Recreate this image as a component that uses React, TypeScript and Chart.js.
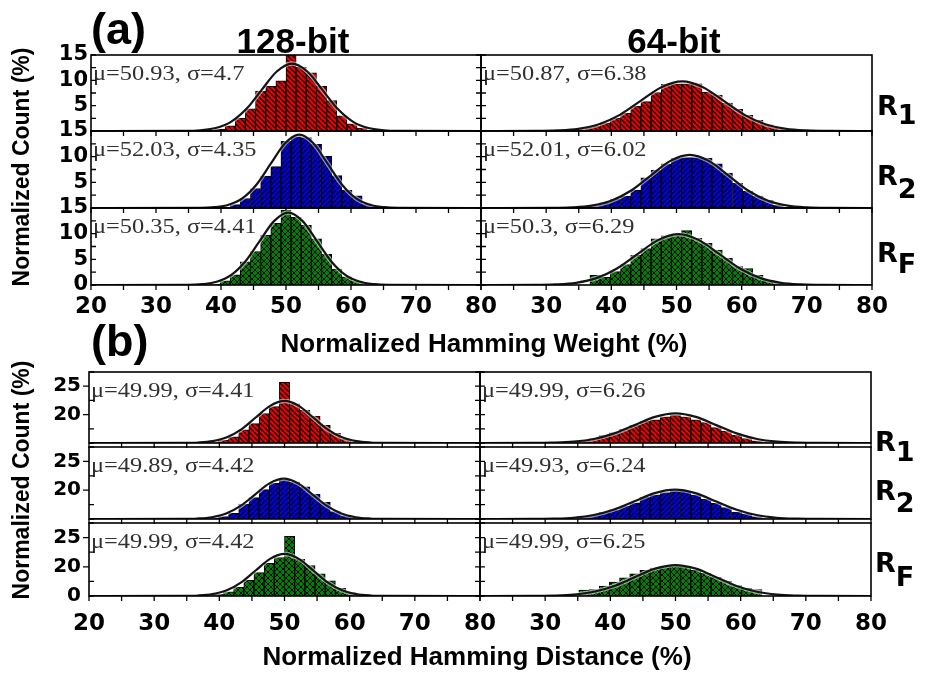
import React, { useEffect, useRef } from "react";
import { Chart, registerables } from "chart.js";
Chart.register(...registerables);

// ================= DATA =================
// (a) Normalized Hamming Weight — 128-bit
const hw128R1Bins = [38.28, 39.84, 41.41, 42.97, 44.53, 46.09, 47.66, 49.22, 50.78, 52.34, 53.91, 55.47, 57.03, 58.59, 60.16, 61.72, 63.28];
const hw128R1Counts = [0.1, 0.4, 1.0, 2.5, 4.4, 7.9, 8.8, 9.9, 15.0, 12.6, 11.5, 8.8, 6.0, 3.0, 1.4, 0.6, 0.2];
const hw128R1FitX = [20, 34.48, 36.83, 39.18, 41.53, 43.88, 46.23, 48.58, 50.93, 53.28, 55.63, 57.98, 60.33, 62.68, 65.03, 67.38, 80];
const hw128R1FitY = [0, 0.03, 0.15, 0.58, 1.8, 4.32, 8.07, 11.74, 13.3, 11.74, 8.07, 4.32, 1.8, 0.58, 0.15, 0.03, 0];

const hw128R2Bins = [40.63, 42.19, 43.75, 45.31, 46.88, 48.44, 50.0, 51.56, 53.13, 54.69, 56.25, 57.81, 59.38, 60.94, 62.5, 64.06];
const hw128R2Counts = [0.2, 0.65, 1.85, 3.8, 6.2, 8.05, 13.0, 13.9, 13.7, 12.4, 10.05, 6.3, 3.5, 2.35, 0.8, 0.3];
const hw128R2FitX = [20, 36.81, 38.98, 41.16, 43.33, 45.51, 47.68, 49.86, 52.03, 54.21, 56.38, 58.56, 60.73, 62.91, 65.08, 67.26, 80];
const hw128R2FitY = [0, 0.03, 0.16, 0.63, 1.93, 4.64, 8.67, 12.62, 14.3, 12.62, 8.67, 4.64, 1.93, 0.63, 0.16, 0.03, 0];

const hw128RFBins = [39.06, 40.63, 42.19, 43.75, 45.31, 46.88, 48.44, 50.0, 51.56, 53.13, 54.69, 56.25, 57.81, 59.38, 60.94, 62.5];
const hw128RFCounts = [0.2, 0.8, 2.0, 4.5, 6.5, 9.7, 12.0, 14.6, 13.2, 11.6, 9.0, 6.0, 3.1, 1.6, 0.8, 0.3];
const hw128RFFitX = [20, 34.92, 37.12, 39.33, 41.53, 43.74, 45.94, 48.15, 50.35, 52.56, 54.76, 56.97, 59.17, 61.38, 63.58, 65.79, 80];
const hw128RFFitY = [0, 0.03, 0.16, 0.62, 1.91, 4.58, 8.55, 12.44, 14.1, 12.44, 8.55, 4.58, 1.91, 0.62, 0.16, 0.03, 0];

// (a) Normalized Hamming Weight — 64-bit
const hw64R1Bins = [34.38, 35.94, 37.5, 39.06, 40.63, 42.19, 43.75, 45.31, 46.88, 48.44, 50.0, 51.56, 53.13, 54.69, 56.25, 57.81, 59.38, 60.94, 62.5, 64.06, 65.63, 67.19];
const hw64R1Counts = [0.2, 0.6, 0.95, 1.6, 2.5, 3.5, 4.85, 5.8, 7.6, 9.2, 9.3, 9.3, 9.3, 7.7, 7.1, 5.5, 4.3, 3.1, 2.1, 1.2, 0.6, 0.2];
const hw64R1FitX = [20, 28.54, 31.73, 34.92, 38.11, 41.3, 44.49, 47.68, 50.87, 54.06, 57.25, 60.44, 63.63, 66.82, 70.01, 73.2, 80];
const hw64R1FitY = [0, 0.02, 0.11, 0.43, 1.33, 3.18, 5.94, 8.65, 9.8, 8.65, 5.94, 3.18, 1.33, 0.43, 0.11, 0.02, 0];

const hw64R2Bins = [35.94, 37.5, 39.06, 40.63, 42.19, 43.75, 45.31, 46.88, 48.44, 50.0, 51.56, 53.13, 54.69, 56.25, 57.81, 59.38, 60.94, 62.5, 64.06, 65.63, 67.19];
const hw64R2Counts = [0.2, 0.5, 1.0, 1.7, 2.3, 3.5, 5.9, 7.4, 8.6, 9.7, 9.8, 9.8, 9.7, 8.6, 6.8, 4.8, 3.3, 2.3, 1.5, 0.5, 0.15];
const hw64R2FitX = [20, 30.94, 33.95, 36.96, 39.97, 42.98, 45.99, 49.0, 52.01, 55.02, 58.03, 61.04, 64.05, 67.06, 70.07, 73.08, 80];
const hw64R2FitY = [0, 0.02, 0.11, 0.45, 1.4, 3.36, 6.28, 9.13, 10.35, 9.13, 6.28, 3.36, 1.4, 0.45, 0.11, 0.02, 0];

const hw64RFBins = [37.5, 39.06, 40.63, 42.19, 43.75, 45.31, 46.88, 48.44, 50.0, 51.56, 53.13, 54.69, 56.25, 57.81, 59.38, 60.94, 62.5, 64.06, 65.63];
const hw64RFCounts = [1.9, 1.5, 2.6, 4.0, 5.8, 7.1, 9.0, 9.6, 10.0, 10.6, 9.1, 8.1, 6.8, 5.2, 3.6, 3.2, 1.9, 0.9, 0.3];
const hw64RFFitX = [20, 28.29, 31.43, 34.58, 37.72, 40.87, 44.01, 47.16, 50.3, 53.45, 56.59, 59.74, 62.88, 66.03, 69.17, 72.32, 80];
const hw64RFFitY = [0, 0.02, 0.11, 0.43, 1.34, 3.21, 6.0, 8.74, 9.9, 8.74, 6.0, 3.21, 1.34, 0.43, 0.11, 0.02, 0];

// (b) Normalized Hamming Distance — 128-bit (values as read on the panel axis)
const hd128R1Bins = [39.06, 40.63, 42.19, 43.75, 45.31, 46.88, 48.44, 50.0, 51.56, 53.13, 54.69, 56.25, 57.81, 59.38, 60.94];
const hd128R1Counts = [15.15, 15.5, 16.1, 17.3, 18.4, 20.2, 21.4, 25.7, 21.9, 20.8, 19.7, 18.1, 16.7, 15.7, 15.2];
const hd128R1FitX = [20, 34.55, 36.76, 38.96, 41.17, 43.37, 45.58, 47.79, 49.99, 52.2, 54.4, 56.61, 58.81, 61.02, 63.22, 65.43, 80];
const hd128R1FitY = [15, 15.02, 15.08, 15.32, 16.0, 17.4, 19.49, 21.53, 22.4, 21.53, 19.49, 17.4, 16.0, 15.32, 15.08, 15.02, 15];

const hd128R2Bins = [39.06, 40.63, 42.19, 43.75, 45.31, 46.88, 48.44, 50.0, 51.56, 53.13, 54.69, 56.25, 57.81, 59.38, 60.94];
const hd128R2Counts = [15.1, 15.4, 16.0, 17.6, 18.7, 20.1, 21.2, 21.7, 21.4, 20.6, 19.3, 17.9, 16.3, 15.6, 15.2];
const hd128R2FitX = [20, 34.42, 36.63, 38.84, 41.05, 43.26, 45.47, 47.68, 49.89, 52.1, 54.31, 56.52, 58.73, 60.94, 63.15, 65.36, 80];
const hd128R2FitY = [15, 15.02, 15.08, 15.31, 15.95, 17.27, 19.25, 21.18, 22.0, 21.18, 19.25, 17.27, 15.95, 15.31, 15.08, 15.02, 15];

const hd128RFBins = [39.84, 41.41, 42.97, 44.53, 46.09, 47.66, 49.22, 50.78, 52.34, 53.91, 55.47, 57.03, 58.59, 60.16, 61.72];
const hd128RFCounts = [15.3, 15.7, 16.5, 17.7, 19.0, 20.6, 21.6, 25.2, 21.3, 20.2, 18.8, 17.6, 16.3, 15.6, 15.15];
const hd128RFFitX = [20, 34.52, 36.73, 38.94, 41.15, 43.36, 45.57, 47.78, 49.99, 52.2, 54.41, 56.62, 58.83, 61.04, 63.25, 65.46, 80];
const hd128RFFitY = [15, 15.02, 15.08, 15.32, 15.97, 17.34, 19.37, 21.35, 22.2, 21.35, 19.37, 17.34, 15.97, 15.32, 15.08, 15.02, 15];

// (b) Normalized Hamming Distance — 64-bit
const hd64R1Bins = [34.38, 35.94, 37.5, 39.06, 40.63, 42.19, 43.75, 45.31, 46.88, 48.44, 50.0, 51.56, 53.13, 54.69, 56.25, 57.81, 59.38, 60.94, 62.5, 64.06, 65.63];
const hd64R1Counts = [15.1, 15.4, 15.8, 16.3, 16.8, 17.4, 18.1, 18.8, 19.1, 19.6, 19.9, 19.6, 19.1, 18.6, 17.7, 17.1, 16.4, 15.8, 15.4, 15.2, 15.05];
const hd64R1FitX = [20, 28.08, 31.21, 34.34, 37.47, 40.6, 43.73, 46.86, 49.99, 53.12, 56.25, 59.38, 62.51, 65.64, 68.77, 71.9, 80];
const hd64R1FitY = [15, 15.01, 15.06, 15.23, 15.7, 16.69, 18.15, 19.59, 20.2, 19.59, 18.15, 16.69, 15.7, 15.23, 15.06, 15.01, 15];

const hd64R2Bins = [35.94, 37.5, 39.06, 40.63, 42.19, 43.75, 45.31, 46.88, 48.44, 50.0, 51.56, 53.13, 54.69, 56.25, 57.81, 59.38, 60.94, 62.5, 64.06];
const hd64R2Counts = [15.4, 15.7, 16.2, 16.6, 17.3, 17.8, 18.8, 19.2, 19.6, 19.9, 19.8, 19.2, 18.4, 17.7, 17.0, 16.2, 15.9, 15.4, 15.1];
const hd64R2FitX = [20, 28.09, 31.21, 34.33, 37.45, 40.57, 43.69, 46.81, 49.93, 53.05, 56.17, 59.29, 62.41, 65.53, 68.65, 71.77, 80];
const hd64R2FitY = [15, 15.01, 15.06, 15.22, 15.69, 16.66, 18.09, 19.5, 20.1, 19.5, 18.09, 16.66, 15.69, 15.22, 15.06, 15.01, 15];

const hd64RFBins = [35.94, 37.5, 39.06, 40.63, 42.19, 43.75, 45.31, 46.88, 48.44, 50.0, 51.56, 53.13, 54.69, 56.25, 57.81, 59.38, 60.94, 62.5];
const hd64RFCounts = [16.0, 16.1, 16.7, 17.4, 18.1, 18.8, 19.4, 19.8, 20.1, 20.2, 19.9, 19.4, 18.9, 18.2, 17.5, 16.8, 16.3, 16.1];
const hd64RFFitX = [20, 28.12, 31.24, 34.37, 37.49, 40.62, 43.74, 46.87, 49.99, 53.12, 56.24, 59.37, 62.49, 65.62, 68.74, 71.87, 80];
const hd64RFFitY = [15, 15.01, 15.06, 15.23, 15.72, 16.72, 18.21, 19.68, 20.3, 19.68, 18.21, 16.72, 15.72, 15.23, 15.06, 15.01, 15];

// tick values
const xTickValues = [20, 30, 40, 50, 60, 70, 80];
const yTicksWeight = [0, 5, 10, 15];
const yTicksDistance = [15, 20, 25, 27.5];

// ================= LAYOUT =================
const LAYOUT: any = {
  a: { tops: [55, 131, 208], bottoms: [131, 208, 285], cols: [[91, 481], [481, 872]], min: 0, max: 15, base: 0, xPad: 8, yPad: 3, yFont: 21, yTicks: yTicksWeight },
  b: { tops: [368, 443, 519], bottoms: [443, 519, 596], cols: [[89, 480], [480, 871]], min: 15, max: 27.5, base: 15, xPad: 14, yPad: 8, yFont: 20, yTicks: yTicksDistance },
};
const PAD_L = 70, PAD_R = 44, PAD_T = 16, PAD_B = 48;

const FILL: any = { red: "#f00000", blue: "#0000f0", green: "#008000" };

const PANELS = [
  { sec: "a", row: 0, col: 0, bins: hw128R1Bins, counts: hw128R1Counts, fitX: hw128R1FitX, fitY: hw128R1FitY, stat: "μ=50.93, σ=4.7", color: "red" },
  { sec: "a", row: 1, col: 0, bins: hw128R2Bins, counts: hw128R2Counts, fitX: hw128R2FitX, fitY: hw128R2FitY, stat: "μ=52.03, σ=4.35", color: "blue" },
  { sec: "a", row: 2, col: 0, bins: hw128RFBins, counts: hw128RFCounts, fitX: hw128RFFitX, fitY: hw128RFFitY, stat: "μ=50.35, σ=4.41", color: "green" },
  { sec: "a", row: 0, col: 1, bins: hw64R1Bins, counts: hw64R1Counts, fitX: hw64R1FitX, fitY: hw64R1FitY, stat: "μ=50.87, σ=6.38", color: "red" },
  { sec: "a", row: 1, col: 1, bins: hw64R2Bins, counts: hw64R2Counts, fitX: hw64R2FitX, fitY: hw64R2FitY, stat: "μ=52.01, σ=6.02", color: "blue" },
  { sec: "a", row: 2, col: 1, bins: hw64RFBins, counts: hw64RFCounts, fitX: hw64RFFitX, fitY: hw64RFFitY, stat: "μ=50.3, σ=6.29", color: "green" },
  { sec: "b", row: 0, col: 0, bins: hd128R1Bins, counts: hd128R1Counts, fitX: hd128R1FitX, fitY: hd128R1FitY, stat: "μ=49.99, σ=4.41", color: "red" },
  { sec: "b", row: 1, col: 0, bins: hd128R2Bins, counts: hd128R2Counts, fitX: hd128R2FitX, fitY: hd128R2FitY, stat: "μ=49.89, σ=4.42", color: "blue" },
  { sec: "b", row: 2, col: 0, bins: hd128RFBins, counts: hd128RFCounts, fitX: hd128RFFitX, fitY: hd128RFFitY, stat: "μ=49.99, σ=4.42", color: "green" },
  { sec: "b", row: 0, col: 1, bins: hd64R1Bins, counts: hd64R1Counts, fitX: hd64R1FitX, fitY: hd64R1FitY, stat: "μ=49.99, σ=6.26", color: "red" },
  { sec: "b", row: 1, col: 1, bins: hd64R2Bins, counts: hd64R2Counts, fitX: hd64R2FitX, fitY: hd64R2FitY, stat: "μ=49.93, σ=6.24", color: "blue" },
  { sec: "b", row: 2, col: 1, bins: hd64RFBins, counts: hd64RFCounts, fitX: hd64RFFitX, fitY: hd64RFFitY, stat: "μ=49.99, σ=6.25", color: "green" },
];

function makePattern(ctx: CanvasRenderingContext2D, color: string) {
  const kind = color;
  const s = kind === "green" ? 6 : 5;
  const c = document.createElement("canvas");
  c.width = s;
  c.height = s;
  const g = c.getContext("2d") as CanvasRenderingContext2D;
  g.fillStyle = FILL[color];
  g.fillRect(0, 0, s, s);
  g.strokeStyle = "#000";
  g.lineWidth = kind === "green" ? 1.0 : 1.3;
  g.beginPath();
  for (const k of [-1, 0, 1]) {
    if (kind === "red" || kind === "green") {
      g.moveTo(k * s, 0);
      g.lineTo(k * s + s, s);
    }
    if (kind === "blue" || kind === "green") {
      g.moveTo(k * s, s);
      g.lineTo(k * s + s, 0);
    }
  }
  g.stroke();
  return ctx.createPattern(c, "repeat");
}

const framePlugin = {
  id: "panelFrame",
  afterDraw(chart: any, _args: any, opts: any) {
    const { ctx, chartArea: a } = chart;
    const x = chart.scales.x;
    const y = chart.scales.y;
    // stats annotation
    ctx.save();
    ctx.font = '20px "Liberation Serif", "Times New Roman", serif';
    ctx.fillStyle = "#303030";
    ctx.textBaseline = "alphabetic";
    ctx.textAlign = "left";
    ctx.translate(a.left + 2, a.top + 25);
    ctx.scale(1.22, 1);
    ctx.fillText(opts.stat, 0, 0);
    ctx.restore();
    // frame + ticks
    ctx.save();
    ctx.strokeStyle = "#000";
    ctx.lineWidth = 1.6;
    ctx.strokeRect(a.left, a.top, a.right - a.left, a.bottom - a.top);
    ctx.lineWidth = 1.3;
    ctx.beginPath();
    for (let v = 20; v <= 80; v += 5) {
      const px = x.getPixelForValue(v);
      ctx.moveTo(px, a.bottom);
      ctx.lineTo(px, a.bottom + 5);
    }
    for (let v = y.min; v <= y.max + 1e-6; v += 2.5) {
      const py = y.getPixelForValue(v);
      const major = opts.sec === "b" && (v === 20 || v === 25);
      if (opts.col === 0) {
        if (major) {
          ctx.moveTo(a.left - 6, py);
          ctx.lineTo(a.left, py);
        } else {
          ctx.moveTo(a.left, py);
          ctx.lineTo(a.left + 5, py);
        }
        ctx.moveTo(a.right, py);
        ctx.lineTo(a.right - 5, py);
      } else {
        ctx.moveTo(a.left, py);
        ctx.lineTo(a.left + 5, py);
      }
    }
    ctx.stroke();
    ctx.restore();
  },
};

function Panel({ spec }: { spec: any }) {
  const ref = useRef<HTMLCanvasElement>(null);
  const L = LAYOUT[spec.sec];
  const [x0, x1] = L.cols[spec.col];
  const y0 = L.tops[spec.row];
  const y1 = L.bottoms[spec.row];
  const W = x1 - x0 + PAD_L + PAD_R;
  const H = y1 - y0 + PAD_T + PAD_B;

  useEffect(() => {
    const canvas = ref.current as HTMLCanvasElement;
    const ctx = canvas.getContext("2d") as CanvasRenderingContext2D;
    const pattern = makePattern(ctx, spec.color);
    const bottomRow = spec.row === 2;
    const fit = spec.fitX.map((v: number, i: number) => ({ x: v, y: spec.fitY[i] }));
    const bars = spec.bins.map((v: number, i: number) => ({ x: v, y: spec.counts[i] }));
    const chart = new Chart(canvas, {
      type: "bar",
      data: {
        datasets: [
          {
            type: "line",
            data: fit,
            borderColor: "#141414",
            borderWidth: 2.2,
            pointRadius: 0,
            cubicInterpolationMode: "monotone",
            order: 0,
          } as any,
          {
            type: "line",
            data: fit,
            borderColor: "rgba(255,255,255,0.55)",
            borderWidth: 4.5,
            pointRadius: 0,
            cubicInterpolationMode: "monotone",
            order: 1,
          } as any,
          {
            type: "bar",
            data: bars,
            backgroundColor: pattern,
            borderColor: "#000",
            borderWidth: 1,
            barPercentage: 1,
            categoryPercentage: 1,
            base: L.base,
            order: 2,
          } as any,
        ],
      },
      options: {
        animation: false,
        responsive: false,
        devicePixelRatio: 1,
        events: [],
        layout: { padding: { top: PAD_T, right: PAD_R, left: 0, bottom: 0 } },
        plugins: {
          legend: { display: false },
          tooltip: { enabled: false },
          panelFrame: { stat: spec.stat, sec: spec.sec, col: spec.col },
        } as any,
        scales: {
          x: {
            type: "linear",
            min: 20,
            max: 80,
            offset: false,
            grid: { display: false, drawTicks: false },
            border: { display: false },
            afterBuildTicks: (s: any) => {
              s.ticks = xTickValues.map((v) => ({ value: v }));
            },
            ticks: {
              autoSkip: false,
              maxRotation: 0,
              minRotation: 0,
              padding: L.xPad,
              color: "#000",
              font: { family: "'DejaVu Sans', sans-serif", weight: "bold", size: 23 },
              callback: (v: any) => {
                if (!bottomRow) return "";
                if (spec.col === 1 && v === 20) return "";
                return String(v);
              },
            },
            afterFit: (s: any) => {
              s.height = PAD_B;
            },
          },
          y: {
            min: L.min,
            max: L.max,
            beginAtZero: false,
            grid: { display: false, drawTicks: false },
            border: { display: false },
            afterBuildTicks: (s: any) => {
              s.ticks = L.yTicks.map((v: number) => ({ value: v }));
            },
            ticks: {
              autoSkip: false,
              padding: L.yPad,
              color: "#000",
              font: { family: "'DejaVu Sans', sans-serif", weight: "bold", size: L.yFont },
              callback: (v: any) => {
                if (spec.col === 1) return "";
                if (spec.sec === "a") {
                  if (v === 0) return bottomRow ? "0" : "";
                  return String(v);
                }
                if (v === 20 || v === 25) return String(v);
                if (v === 15 && bottomRow) return "0";
                return "";
              },
            },
            afterFit: (s: any) => {
              s.width = PAD_L;
            },
          },
        } as any,
      },
      plugins: [framePlugin],
    } as any);
    return () => chart.destroy();
  }, []);

  return (
    <canvas
      ref={ref}
      width={W}
      height={H}
      style={{ position: "absolute", left: x0 - PAD_L, top: y0 - PAD_T, width: W, height: H }}
    />
  );
}

const SANS = "'Liberation Sans', Arial, sans-serif";
const DEJA = "'DejaVu Sans', sans-serif";

function RLabel({ x, y, sub, dy }: { x: number; y: number; sub: string; dy: number }) {
  return (
    <text x={x} y={y} fontFamily={DEJA} fontWeight="bold" fontSize={27} fill="#000">
      R<tspan dy={dy}>{sub}</tspan>
    </text>
  );
}

export default function App() {
  return (
    <div style={{ position: "absolute", left: 0, top: 0, width: 925, height: 673, background: "#fff" }}>
      {PANELS.map((p, i) => (
        <Panel key={i} spec={p} />
      ))}
      <svg width={925} height={673} style={{ position: "absolute", left: 0, top: 0, pointerEvents: "none" }}>
        <text x={91} y={44} fontFamily={SANS} fontWeight="bold" fontSize={45} fill="#000">(a)</text>
        <text x={91} y={356} fontFamily={SANS} fontWeight="bold" fontSize={45} fill="#000">(b)</text>
        <text x={293} y={53} textAnchor="middle" fontFamily={SANS} fontWeight="bold" fontSize={35} fill="#000">128-bit</text>
        <text x={674} y={53} textAnchor="middle" fontFamily={SANS} fontWeight="bold" fontSize={35} fill="#000">64-bit</text>
        <text x={484} y={352} textAnchor="middle" fontFamily={SANS} fontWeight="bold" fontSize={26} fill="#000">Normalized Hamming Weight (%)</text>
        <text x={477} y={665} textAnchor="middle" fontFamily={SANS} fontWeight="bold" fontSize={26} fill="#000">Normalized Hamming Distance (%)</text>
        <text transform="translate(29,167) rotate(-90)" textAnchor="middle" fontFamily={SANS} fontWeight="bold" fontSize={23} fill="#000">Normalized Count (%)</text>
        <text transform="translate(29,480) rotate(-90)" textAnchor="middle" fontFamily={SANS} fontWeight="bold" fontSize={23} fill="#000">Normalized Count (%)</text>
        <RLabel x={877} y={115} sub="1" dy={9} />
        <RLabel x={877} y={185} sub="2" dy={13} />
        <RLabel x={877} y={262} sub="F" dy={11} />
        <RLabel x={875} y={451} sub="1" dy={10} />
        <RLabel x={875} y={500} sub="2" dy={12} />
        <RLabel x={875} y={572} sub="F" dy={14} />
      </svg>
    </div>
  );
}
